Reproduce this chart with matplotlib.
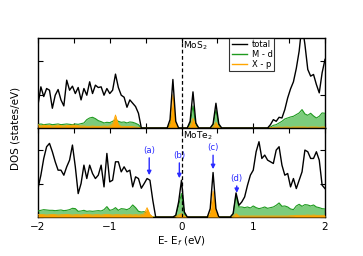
import numpy as np
import matplotlib
matplotlib.use("Agg")
import matplotlib.pyplot as plt
from matplotlib.ticker import MultipleLocator, FixedLocator
from matplotlib.lines import Line2D

# Energy grid (eV), step 0.04 from -2 to 2
energy = np.round(np.arange(-2.0, 2.0001, 0.04), 2)

# ---------------- MoS2 (top panel) ----------------
mos2_total = [
    0.69, 1.23, 0.94, 1.18, 1.13, 0.59, 0.98, 1.15, 0.84, 0.66,
    1.43, 1.13, 1.25, 1.03, 1.21, 0.84, 1.18, 0.98, 1.38, 1.03,
    1.28, 1.21, 1.23, 0.98, 1.18, 1.03, 1.13, 1.61, 1.21, 0.98,
    0.92, 0.62, 0.84, 0.74, 0.64, 0.44, 0.00, 0.00, 0.00, 0.00,
    0.00, 0.00, 0.00, 0.00, 0.00, 0.00, 0.25, 1.45, 0.20, 0.00,
    0.00, 0.00, 0.00, 0.20, 1.08, 0.15, 0.00, 0.00, 0.00, 0.00,
    0.00, 0.12, 0.74, 0.12, 0.00, 0.00, 0.00, 0.00, 0.00, 0.00,
    0.00, 0.00, 0.00, 0.00, 0.00, 0.00, 0.00, 0.00, 0.00, 0.00,
    0.00, 0.10, 0.25, 0.20, 0.32, 0.30, 0.55, 0.90, 1.17, 1.38,
    1.78, 2.30, 3.10, 2.50, 1.75, 1.55, 1.60, 1.30, 1.05, 1.65,
    2.05,
]
mos2_md = [
    0.10, 0.12, 0.10, 0.11, 0.12, 0.10, 0.11, 0.12, 0.10, 0.11,
    0.12, 0.11, 0.10, 0.12, 0.11, 0.13, 0.15, 0.25, 0.30, 0.32,
    0.28, 0.22, 0.19, 0.15, 0.17, 0.16, 0.20, 0.25, 0.20, 0.17,
    0.18, 0.15, 0.18, 0.17, 0.14, 0.10, 0.00, 0.00, 0.00, 0.00,
    0.00, 0.00, 0.00, 0.00, 0.00, 0.00, 0.10, 0.50, 0.08, 0.00,
    0.00, 0.00, 0.00, 0.12, 0.66, 0.10, 0.00, 0.00, 0.00, 0.00,
    0.00, 0.09, 0.54, 0.09, 0.00, 0.00, 0.00, 0.00, 0.00, 0.00,
    0.00, 0.00, 0.00, 0.00, 0.00, 0.00, 0.00, 0.00, 0.00, 0.00,
    0.00, 0.03, 0.08, 0.10, 0.15, 0.20, 0.27, 0.30, 0.33, 0.35,
    0.40, 0.45, 0.55, 0.42, 0.38, 0.44, 0.36, 0.30, 0.35, 0.45,
    0.44,
]
mos2_xp = [
    0.10, 0.06, 0.09, 0.07, 0.08, 0.06, 0.07, 0.09, 0.07, 0.06,
    0.08, 0.07, 0.09, 0.08, 0.07, 0.06, 0.06, 0.05, 0.05, 0.06,
    0.05, 0.05, 0.05, 0.06, 0.05, 0.06, 0.12, 0.39, 0.10, 0.05,
    0.05, 0.04, 0.05, 0.04, 0.03, 0.02, 0.00, 0.00, 0.00, 0.00,
    0.00, 0.00, 0.00, 0.00, 0.00, 0.00, 0.15, 1.00, 0.12, 0.00,
    0.00, 0.00, 0.00, 0.05, 0.29, 0.04, 0.00, 0.00, 0.00, 0.00,
    0.00, 0.03, 0.17, 0.03, 0.00, 0.00, 0.00, 0.00, 0.00, 0.00,
    0.00, 0.00, 0.00, 0.00, 0.00, 0.00, 0.00, 0.00, 0.00, 0.00,
    0.00, 0.01, 0.02, 0.02, 0.03, 0.02, 0.03, 0.03, 0.02, 0.03,
    0.03, 0.03, 0.03, 0.03, 0.02, 0.03, 0.03, 0.03, 0.02, 0.03,
    0.03,
]

# ---------------- MoTe2 (bottom panel) ----------------
mote2_total = [
    0.86, 1.25, 1.75, 2.10, 2.20, 1.95, 1.65, 1.40, 1.40, 1.25,
    1.50, 1.70, 2.15, 1.50, 0.70, 1.00, 1.55, 1.15, 1.55, 1.30,
    1.15, 1.25, 1.55, 0.90, 1.90, 1.05, 1.10, 1.65, 1.65, 1.35,
    1.50, 1.35, 1.40, 0.90, 1.20, 1.15, 0.86, 1.00, 1.15, 1.10,
    0.50, 0.00, 0.00, 0.00, 0.00, 0.00, 0.00, 0.00, 0.05, 0.45,
    1.10, 0.15, 0.00, 0.00, 0.00, 0.00, 0.00, 0.00, 0.00, 0.00,
    0.25, 1.33, 0.25, 0.00, 0.00, 0.00, 0.00, 0.00, 0.10, 0.72,
    0.35, 0.45, 0.60, 0.95, 1.25, 1.40, 1.95, 2.25, 1.75, 1.85,
    1.70, 1.65, 1.60, 2.00, 2.10, 1.55, 1.25, 1.30, 0.90, 1.15,
    0.85, 1.10, 1.35, 2.00, 1.95, 1.75, 1.75, 1.95, 1.70, 0.95,
    0.85,
]
mote2_md = [
    0.18, 0.20, 0.22, 0.21, 0.20, 0.20, 0.19, 0.20, 0.21, 0.19,
    0.20, 0.22, 0.26, 0.25, 0.17, 0.18, 0.20, 0.17, 0.18, 0.17,
    0.18, 0.19, 0.18, 0.22, 0.31, 0.20, 0.22, 0.28, 0.20, 0.25,
    0.24, 0.22, 0.26, 0.36, 0.28, 0.17, 0.15, 0.16, 0.12, 0.05,
    0.00, 0.00, 0.00, 0.00, 0.00, 0.00, 0.00, 0.00, 0.03, 0.35,
    0.70, 0.10, 0.00, 0.00, 0.00, 0.00, 0.00, 0.00, 0.00, 0.00,
    0.05, 0.30, 0.05, 0.00, 0.00, 0.00, 0.00, 0.00, 0.10, 0.65,
    0.30, 0.30, 0.28, 0.30, 0.27, 0.33, 0.28, 0.25, 0.27, 0.30,
    0.26, 0.28, 0.30, 0.35, 0.42, 0.32, 0.33, 0.30, 0.24, 0.22,
    0.33, 0.38, 0.32, 0.37, 0.36, 0.33, 0.36, 0.30, 0.28, 0.25,
    0.24,
]
mote2_xp = [
    0.07, 0.08, 0.07, 0.06, 0.07, 0.08, 0.07, 0.06, 0.07, 0.07,
    0.08, 0.07, 0.06, 0.07, 0.07, 0.06, 0.07, 0.08, 0.07, 0.06,
    0.07, 0.07, 0.06, 0.07, 0.08, 0.07, 0.06, 0.07, 0.07, 0.06,
    0.07, 0.06, 0.07, 0.06, 0.07, 0.06, 0.07, 0.10, 0.28, 0.08,
    0.00, 0.00, 0.00, 0.00, 0.00, 0.00, 0.00, 0.00, 0.01, 0.06,
    0.10, 0.03, 0.00, 0.00, 0.00, 0.00, 0.00, 0.00, 0.00, 0.00,
    0.15, 0.78, 0.15, 0.00, 0.00, 0.00, 0.00, 0.00, 0.02, 0.10,
    0.03, 0.03, 0.03, 0.03, 0.03, 0.03, 0.03, 0.03, 0.03, 0.03,
    0.03, 0.03, 0.03, 0.03, 0.03, 0.03, 0.03, 0.03, 0.04, 0.04,
    0.05, 0.05, 0.05, 0.05, 0.06, 0.05, 0.06, 0.05, 0.05, 0.05,
    0.05,
]

# Arrow annotations (bottom panel): label, energy, label height, tip height
ann_labels = ["(a)", "(b)", "(c)", "(d)"]
ann_energy = [-0.45, -0.03, 0.44, 0.77]
ann_text_y = [1.85, 1.70, 1.93, 1.01]
ann_tip_y = [1.25, 1.16, 1.43, 0.72]

GREEN_FILL = "#7ccc7c"
GREEN_LINE = "#1f9a1f"
ORANGE = "#ffa500"
BLUE = "#2a2aff"

fig = plt.figure(figsize=(3.63, 2.56), dpi=100)
ax_top = fig.add_axes([0.1047, 0.5, 0.7906, 0.3516])
ax_bot = fig.add_axes([0.1047, 0.1523, 0.7906, 0.3477])


def draw(ax, total, md, xp):
    md = np.array(md)
    xp = np.array(xp)
    total = np.array(total)
    ax.fill_between(energy, 0, md, color=GREEN_FILL, lw=0, zorder=2)
    ax.plot(energy, md, color=GREEN_LINE, lw=0.8, zorder=3)
    ax.fill_between(energy, 0, xp, color=ORANGE, lw=0, zorder=4)
    ax.plot(energy, xp, color=ORANGE, lw=0.6, zorder=4)
    ax.plot(energy, total, color="black", lw=1.0, zorder=5)
    ax.axvline(0, color="black", ls=(0, (3, 2)), lw=0.9, zorder=6)
    ax.set_xlim(-2, 2)
    ax.xaxis.set_major_locator(MultipleLocator(1))
    ax.xaxis.set_minor_locator(MultipleLocator(0.5))
    ax.yaxis.set_major_locator(FixedLocator([0, 1, 2]))
    ax.tick_params(axis="both", which="both", direction="in", top=True,
                   right=True, length=3.5, width=0.8, labelsize=7.5)
    ax.set_yticklabels([])
    for s in ax.spines.values():
        s.set_linewidth(1.0)


draw(ax_top, mos2_total, mos2_md, mos2_xp)
draw(ax_bot, mote2_total, mote2_md, mote2_xp)
ax_top.set_ylim(0, 2.69)
ax_bot.set_ylim(0, 2.66)
ax_top.set_xticklabels([])

handles = [Line2D([], [], color="black", lw=1.0),
           Line2D([], [], color=GREEN_LINE, lw=1.0),
           Line2D([], [], color=ORANGE, lw=1.0)]
leg = ax_top.legend(handles, ["total", "M - d", "X - p"], loc="upper left",
                    bbox_to_anchor=(0.667, 1.0), fontsize=6.0, frameon=True,
                    fancybox=False, edgecolor="black", handlelength=1.8,
                    handletextpad=0.6, borderpad=0.25, labelspacing=0.12,
                    borderaxespad=0.0)
leg.get_frame().set_linewidth(0.8)
leg.set_zorder(10)

ax_top.text(0.02, 2.64, "MoS$_2$", fontsize=6.5, va="top", ha="left", zorder=7)
ax_bot.text(0.02, 2.62, "MoTe$_2$", fontsize=6.5, va="top", ha="left", zorder=7)

for lab, e, ty, tipy in zip(ann_labels, ann_energy, ann_text_y, ann_tip_y):
    ax_bot.annotate(lab, xy=(e, tipy), xytext=(e, ty), ha="center", va="bottom",
                    fontsize=6.2, color=BLUE, zorder=5,
                    arrowprops=dict(arrowstyle="-|>", color=BLUE, lw=1.0,
                                    mutation_scale=6, shrinkA=0, shrinkB=0))

ax_bot.set_xlabel("E- E$_f$ (eV)", fontsize=7.5, labelpad=2)
fig.text(0.042, 0.5, "DOS (states/eV)", rotation=90, fontsize=7.5,
         ha="center", va="center")

fig.savefig("out.png", dpi=100)
